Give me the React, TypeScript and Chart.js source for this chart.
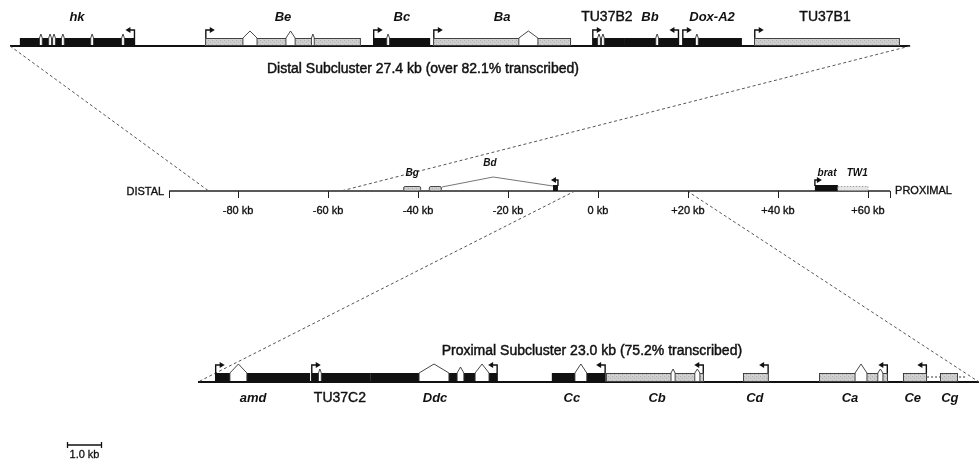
import { useEffect, useRef } from 'react';
import { Chart, registerables } from 'chart.js';

Chart.register(...registerables);

const W = 979;
const H = 463;
const FONT = '"Liberation Sans", Arial, Helvetica, sans-serif';

// ---------- Distal subcluster (top track), kb from its left end ----------
const TOP_LENGTH = 27.4;
const TOP_NAMES = ['hk', 'Be', 'Bc', 'Ba', 'TU37B2', 'Bb', 'Dox-A2', 'TU37B1'];
const TOP_STARTS = [0.3, 5.94, 11.05, 12.88, 17.72, 18.72, 20.46, 22.65];
const TOP_ENDS = [3.81, 10.68, 12.79, 17.08, 18.72, 20.37, 22.28, 27.09];
const TOP_STRAND = [-1, 1, 1, 1, 1, -1, 1, 1];
const TOP_FILL = ['b', 'g', 'b', 'g', 'b', 'b', 'b', 'g'];
const TOP_ITALIC = [true, true, true, true, false, true, true, false];
const TOP_LABEL_AT = [2.04, 8.31, 11.93, 14.98, 18.17, 19.48, 21.37, 24.81];
const TOP_INTRONS = [[], [[7.09, 7.52], [8.4, 8.68]], [], [[15.49, 16.07]], [], [], [], []];
const TOP_SLITS = [[0.94, 1.22, 1.34, 1.61, 2.5, 3.44], [9.22], [11.51], [], [17.93, 18.05], [19.7], [20.91], []];
const TOP_TITLE = 'Distal Subcluster 27.4 kb (over 82.1% transcribed)';
const TOP_TITLE_AT = 12.57;

// ---------- Proximal subcluster (bottom track) ----------
const BOT_LENGTH = 23.0;
const BOT_NAMES = ['amd', 'TU37C2', 'Ddc', 'Cc', 'Cb', 'Cd', 'Ca', 'Ce', 'Cg'];
const BOT_STARTS = [0.5, 3.33, 5.07, 10.42, 12.01, 16.05, 18.29, 20.76, 21.85];
const BOT_ENDS = [3.3, 5.07, 8.83, 12.01, 14.9, 16.81, 20.32, 21.47, 22.38];
const BOT_STRAND = [1, 1, -1, -1, -1, -1, -1, -1, 0];
const BOT_FILL = ['b', 'b', 'b', 'b', 'g', 'g', 'g', 'g', 'g'];
const BOT_ITALIC = [true, false, true, true, true, true, true, true, true];
const BOT_LABEL_AT = [1.62, 4.18, 6.98, 11.01, 13.52, 16.4, 19.2, 21.05, 22.14];
const BOT_INTRONS = [[[0.94, 1.44]], [], [[6.51, 7.39], [7.63, 7.83], [8.16, 8.57]], [[11.1, 11.45]], [[13.93, 14.05], [14.63, 14.78]], [], [[19.35, 19.7], [20.02, 20.17]], [], []];
const BOT_SLITS = [[], [3.59], [], [], [], [], [], [], []];
const BOT_DOTTED = [21.47, 22.59];
const BOT_TITLE = 'Proximal Subcluster 23.0 kb (75.2% transcribed)';
const BOT_TITLE_AT = 11.6;
const SCALE_BAR_START = -3.86;
const SCALE_BAR_KB = 1.0;
const SCALE_BAR_LABEL = '1.0 kb';

// ---------- Overview axis (middle track), kb ----------
const MID_RANGE = [-95.3, 64.9];
const MID_TICKS = [-80, -60, -40, -20, 0, 20, 40, 60];
const MID_TICK_LABELS = ['-80 kb', '-60 kb', '-40 kb', '-20 kb', '0 kb', '+20 kb', '+40 kb', '+60 kb'];
const DISTAL_SPAN = [-86.5, -57.1];
const PROXIMAL_SPAN = [-5.1, 19.8];
const MID_EXON_STARTS = [-43.3, -37.6, -10.0, 48.2, 53.3];
const MID_EXON_ENDS = [-39.3, -34.7, -8.9, 53.3, 60.0];
const MID_EXON_FILL = ['g', 'g', 'b', 'b', 'd'];
const MID_BD_INTRON = [-34.7, -23.3, -10.0];
const MID_ARROWS = [-8.9, 48.2];
const MID_ARROW_DIR = [-1, 1];
const MID_NAMES = ['Bg', 'Bd', 'brat', 'TW1'];
const MID_LABEL_AT = [-41.3, -24.0, 50.9, 57.6];

// layout (pixels)
const TOP_Y = 46;
const TOP_BOX = 8;
const MID_Y = 191;
const BOT_Y = 382;
const BOT_BOX = 9;

const TOP_SCALE = { min: -10 / 32.85, max: 969 / 32.85 };
const BOT_SCALE = { min: -198 / 33.957, max: 781 / 33.957 };
const MID_SCALE = { min: -598 / 4.5, max: 381 / 4.5 };

let grayPattern: CanvasPattern | string | null = null;
function getGray(ctx: CanvasRenderingContext2D) {
  if (grayPattern) return grayPattern;
  const c = document.createElement('canvas');
  c.width = 4;
  c.height = 4;
  const g = c.getContext('2d')!;
  g.fillStyle = '#cdcdcd';
  g.fillRect(0, 0, 4, 4);
  g.fillStyle = '#b0b0b0';
  g.fillRect(0, 0, 1, 1);
  g.fillRect(2, 2, 1, 1);
  g.fillStyle = '#dadada';
  g.fillRect(1, 3, 1, 1);
  grayPattern = ctx.createPattern(c, 'repeat') || '#cdcdcd';
  return grayPattern;
}

function text(ctx: CanvasRenderingContext2D, s: string, x: number, y: number, stroke = 0.35) {
  ctx.fillText(s, x, y);
  if (stroke > 0) {
    ctx.lineWidth = stroke;
    ctx.strokeStyle = '#111';
    ctx.strokeText(s, x, y);
  }
}

function house(ctx: CanvasRenderingContext2D, x1: number, x2: number, base: number, top: number, peak: number) {
  const path = () => {
    ctx.beginPath();
    ctx.moveTo(x1, base - 1);
    ctx.lineTo(x1, top);
    ctx.lineTo((x1 + x2) / 2, peak);
    ctx.lineTo(x2, top);
    ctx.lineTo(x2, base - 1);
  };
  path();
  ctx.closePath();
  ctx.fillStyle = '#fff';
  ctx.fill();
  path();
  ctx.strokeStyle = '#333';
  ctx.lineWidth = 0.9;
  ctx.stroke();
}

function arrow(ctx: CanvasRenderingContext2D, x: number, top: number, dir: number, h: number, len: number) {
  const y = top - h;
  ctx.strokeStyle = '#111';
  ctx.fillStyle = '#111';
  ctx.lineWidth = 1.4;
  ctx.beginPath();
  ctx.moveTo(x, top);
  ctx.lineTo(x, y);
  ctx.lineTo(x + dir * (len - 3), y);
  ctx.stroke();
  ctx.beginPath();
  ctx.moveTo(x + dir * len, y);
  ctx.lineTo(x + dir * (len - 5), y - 3);
  ctx.lineTo(x + dir * (len - 5), y + 3);
  ctx.closePath();
  ctx.fill();
}

function box(ctx: CanvasRenderingContext2D, x1: number, x2: number, y1: number, y2: number, fill: string) {
  if (fill === 'b') {
    ctx.fillStyle = '#111';
    ctx.fillRect(x1, y1, x2 - x1, y2 - y1);
  } else {
    ctx.fillStyle = getGray(ctx);
    ctx.fillRect(x1, y1, x2 - x1, y2 - y1);
    ctx.strokeStyle = '#333';
    ctx.lineWidth = 0.9;
    ctx.strokeRect(x1 + 0.5, y1 + 0.5, x2 - x1 - 1, y2 - y1 - 1);
  }
}

function drawTrack(
  ctx: CanvasRenderingContext2D,
  sx: any,
  base: number,
  bh: number,
  starts: number[],
  ends: number[],
  fills: string[],
  strands: number[],
  introns: number[][][],
  slits: number[][],
  names: string[],
  italic: boolean[],
  labelAt: number[],
  labelY: number,
  peakUp: number,
) {
  const top = base - bh;
  for (let i = 0; i < starts.length; i++) {
    const x1 = sx.getPixelForValue(starts[i]);
    const x2 = sx.getPixelForValue(ends[i]);
    box(ctx, x1, x2, top, base, fills[i]);
  }
  for (let i = 0; i < starts.length; i++) {
    for (const [a, b] of introns[i]) {
      const xa = sx.getPixelForValue(a);
      const xb = sx.getPixelForValue(b);
      const w = xb - xa;
      house(ctx, xa, xb, base, top, top - (w < 6 ? 4 : w < 9 ? 6 : peakUp));
    }
    for (const s of slits[i]) {
      const xs = sx.getPixelForValue(s);
      house(ctx, xs - 1.4, xs + 1.4, base, top, top - 4);
    }
    if (strands[i] !== 0) {
      const ax = strands[i] > 0 ? sx.getPixelForValue(starts[i]) : sx.getPixelForValue(ends[i]);
      arrow(ctx, ax + (strands[i] > 0 ? 0.7 : -0.7), top, strands[i], 8, 9);
    }
  }
  ctx.fillStyle = '#111';
  ctx.textAlign = 'center';
  ctx.textBaseline = 'middle';
  for (let i = 0; i < names.length; i++) {
    ctx.font = italic[i] ? `italic bold 13px ${FONT}` : `14px ${FONT}`;
    text(ctx, names[i], sx.getPixelForValue(labelAt[i]), labelY, italic[i] ? 0 : 0.4);
  }
}

const genePlugin = {
  id: 'geneMap',
  afterDatasetsDraw(chart: any) {
    const ctx: CanvasRenderingContext2D = chart.ctx;
    const sTop = chart.scales.xTop;
    const sMid = chart.scales.xMid;
    const sBot = chart.scales.xBot;
    ctx.save();

    // projection lines
    ctx.strokeStyle = '#555';
    ctx.lineWidth = 1;
    ctx.setLineDash([3, 2.5]);
    const seg = (x1: number, y1: number, x2: number, y2: number) => {
      ctx.beginPath();
      ctx.moveTo(x1, y1);
      ctx.lineTo(x2, y2);
      ctx.stroke();
    };
    seg(sTop.getPixelForValue(0), TOP_Y, sMid.getPixelForValue(DISTAL_SPAN[0]), MID_Y);
    seg(sTop.getPixelForValue(TOP_LENGTH), TOP_Y, sMid.getPixelForValue(DISTAL_SPAN[1]), MID_Y);
    seg(sMid.getPixelForValue(PROXIMAL_SPAN[0]), MID_Y, sBot.getPixelForValue(0), BOT_Y);
    seg(sMid.getPixelForValue(PROXIMAL_SPAN[1]), MID_Y, sBot.getPixelForValue(BOT_LENGTH), BOT_Y);
    // dotted Cg segment
    ctx.setLineDash([2, 2]);
    ctx.strokeStyle = '#333';
    seg(sBot.getPixelForValue(BOT_DOTTED[0]), BOT_Y - 5, sBot.getPixelForValue(BOT_DOTTED[1]), BOT_Y - 5);
    ctx.setLineDash([]);

    drawTrack(ctx, sTop, TOP_Y, TOP_BOX, TOP_STARTS, TOP_ENDS, TOP_FILL, TOP_STRAND, TOP_INTRONS, TOP_SLITS,
      TOP_NAMES, TOP_ITALIC, TOP_LABEL_AT, 17, 7);
    drawTrack(ctx, sBot, BOT_Y, BOT_BOX, BOT_STARTS, BOT_ENDS, BOT_FILL, BOT_STRAND, BOT_INTRONS, BOT_SLITS,
      BOT_NAMES, BOT_ITALIC, BOT_LABEL_AT, 398, 9);

    // titles
    ctx.fillStyle = '#111';
    ctx.font = `14px ${FONT}`;
    ctx.textAlign = 'center';
    ctx.textBaseline = 'middle';
    text(ctx, TOP_TITLE, sTop.getPixelForValue(TOP_TITLE_AT), 69, 0.45);
    text(ctx, BOT_TITLE, sBot.getPixelForValue(BOT_TITLE_AT), 351, 0.45);

    // middle axis ticks
    ctx.strokeStyle = '#222';
    ctx.lineWidth = 1;
    const tickList = [MID_RANGE[0], ...MID_TICKS, MID_RANGE[1]];
    for (const t of tickList) {
      const x = Math.round(sMid.getPixelForValue(t)) + 0.5;
      seg(x, MID_Y, x, MID_Y + 7);
    }
    ctx.font = `11px ${FONT}`;
    for (let i = 0; i < MID_TICKS.length; i++) {
      text(ctx, MID_TICK_LABELS[i], sMid.getPixelForValue(MID_TICKS[i]), 211, 0.35);
    }
    ctx.textAlign = 'right';
    text(ctx, 'DISTAL', sMid.getPixelForValue(MID_RANGE[0]) - 5, MID_Y + 1, 0.35);
    ctx.textAlign = 'left';
    text(ctx, 'PROXIMAL', sMid.getPixelForValue(MID_RANGE[1]) + 5, MID_Y, 0.35);

    // middle genes
    for (let i = 0; i < MID_EXON_STARTS.length; i++) {
      const x1 = sMid.getPixelForValue(MID_EXON_STARTS[i]);
      const x2 = sMid.getPixelForValue(MID_EXON_ENDS[i]);
      const f = MID_EXON_FILL[i];
      if (f === 'b') {
        ctx.fillStyle = '#111';
        ctx.fillRect(x1, MID_Y - 6, x2 - x1, 6);
      } else if (f === 'g') {
        ctx.fillStyle = getGray(ctx);
        ctx.beginPath();
        (ctx as any).roundRect(x1 + 0.5, MID_Y - 4.5, x2 - x1 - 1, 4.5, 1.5);
        ctx.fill();
        ctx.strokeStyle = '#333';
        ctx.lineWidth = 0.9;
        ctx.stroke();
      } else {
        ctx.fillStyle = '#e6e6e6';
        ctx.fillRect(x1, MID_Y - 4.5, x2 - x1, 4);
        ctx.strokeStyle = '#888';
        ctx.lineWidth = 0.8;
        ctx.setLineDash([1.5, 1.5]);
        ctx.strokeRect(x1, MID_Y - 4.5, x2 - x1, 4);
        ctx.setLineDash([]);
      }
    }
    ctx.strokeStyle = '#666';
    ctx.lineWidth = 0.9;
    ctx.beginPath();
    ctx.moveTo(sMid.getPixelForValue(MID_BD_INTRON[0]), MID_Y - 4);
    ctx.lineTo(sMid.getPixelForValue(MID_BD_INTRON[1]), MID_Y - 14);
    ctx.lineTo(sMid.getPixelForValue(MID_BD_INTRON[2]), MID_Y - 5);
    ctx.stroke();
    for (let i = 0; i < MID_ARROWS.length; i++) {
      arrow(ctx, sMid.getPixelForValue(MID_ARROWS[i]), MID_Y - 5, MID_ARROW_DIR[i], 6, 7);
    }
    ctx.fillStyle = '#111';
    ctx.textAlign = 'center';
    ctx.font = `italic bold 10px ${FONT}`;
    for (let i = 0; i < MID_NAMES.length; i++) {
      const y = i === 1 ? 163 : 173;
      text(ctx, MID_NAMES[i], sMid.getPixelForValue(MID_LABEL_AT[i]), y, 0);
    }

    // scale bar
    const b1 = Math.round(sBot.getPixelForValue(SCALE_BAR_START)) + 0.5;
    const b2 = Math.round(sBot.getPixelForValue(SCALE_BAR_START + SCALE_BAR_KB)) + 0.5;
    ctx.strokeStyle = '#111';
    ctx.lineWidth = 1.3;
    seg(b1, 445, b2, 445);
    seg(b1, 442, b1, 448);
    seg(b2, 442, b2, 448);
    ctx.font = `11px ${FONT}`;
    ctx.fillStyle = '#111';
    text(ctx, SCALE_BAR_LABEL, (b1 + b2) / 2, 455, 0.3);

    ctx.restore();
  },
};

export default function App() {
  const ref = useRef<HTMLCanvasElement>(null);
  useEffect(() => {
    document.body.style.margin = '0';
    const chart = new Chart(ref.current!, {
      type: 'scatter',
      data: {
        datasets: [
          {
            type: 'line',
            data: [{ x: 0, y: TOP_Y }, { x: TOP_LENGTH, y: TOP_Y }],
            xAxisID: 'xTop',
            yAxisID: 'y',
            borderColor: '#111',
            borderWidth: 2.2,
            pointRadius: 0,
          },
          {
            type: 'line',
            data: [{ x: MID_RANGE[0], y: MID_Y }, { x: MID_RANGE[1], y: MID_Y }],
            xAxisID: 'xMid',
            yAxisID: 'y',
            borderColor: '#222',
            borderWidth: 1.6,
            pointRadius: 0,
          },
          {
            type: 'line',
            data: [{ x: 0, y: BOT_Y }, { x: BOT_LENGTH, y: BOT_Y }],
            xAxisID: 'xBot',
            yAxisID: 'y',
            borderColor: '#111',
            borderWidth: 2.2,
            pointRadius: 0,
          },
        ],
      } as any,
      options: {
        animation: false,
        responsive: false,
        maintainAspectRatio: false,
        events: [],
        layout: { padding: 0 },
        plugins: { legend: { display: false }, tooltip: { enabled: false } },
        scales: {
          xTop: { type: 'linear', axis: 'x', display: false, min: TOP_SCALE.min, max: TOP_SCALE.max },
          xMid: { type: 'linear', axis: 'x', display: false, min: MID_SCALE.min, max: MID_SCALE.max },
          xBot: { type: 'linear', axis: 'x', display: false, min: BOT_SCALE.min, max: BOT_SCALE.max },
          y: { type: 'linear', display: false, min: 0, max: H, reverse: true },
        },
      } as any,
      plugins: [genePlugin],
    });
    return () => chart.destroy();
  }, []);
  return (
    <div style={{ position: 'absolute', left: 0, top: 0, width: W, height: H, background: '#fff' }}>
      <canvas ref={ref} width={W} height={H} style={{ display: 'block' }} />
    </div>
  );
}
